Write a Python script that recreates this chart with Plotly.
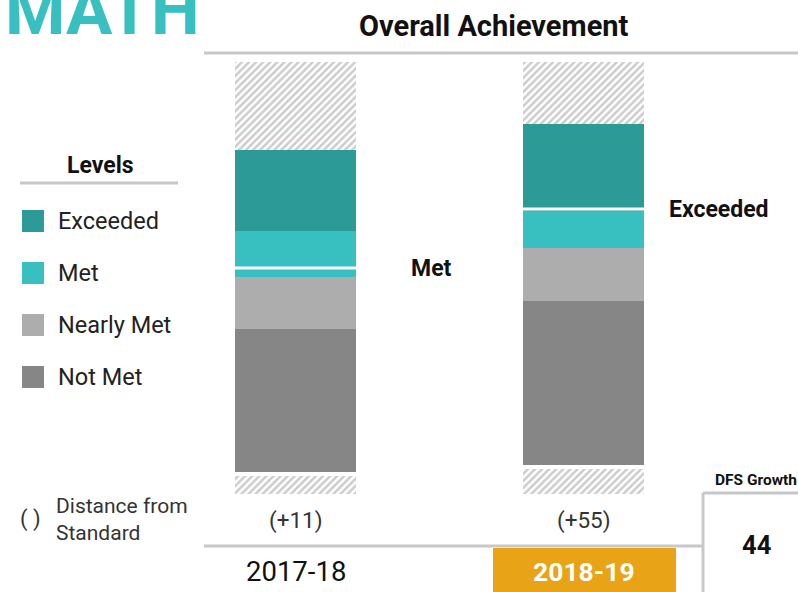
import plotly.graph_objects as go

# values are in chart units (1 unit ~ 1px of bar height)
years = ["2017-18", "2018-19"]
levels = ["Exceeded", "Met", "Nearly Met", "Not Met"]
level_colors = ["#2c9a96", "#38bfc0", "#adadad", "#868686"]

hatch_bottom = [18, 25]
gap = [4, 4]
not_met = [143, 164]
nearly_met = [52, 53]
met = [46, 37]
exceeded = [81, 87]
scale_top = 432

standard_line = [226, 285]
line_level = ["Met", "Exceeded"]
dfs = ["(+11)", "(+55)"]
dfs_growth = 44

W, H = 798, 592
FONT = "Roboto"


def px(x):
    return x / W


def py(y):
    return 1 - y / H


def note(x, y, text, size, color="#111", xanchor="center", **kw):
    return dict(xref="paper", yref="paper", x=px(x), y=py(y), text=text, showarrow=False,
                xanchor=xanchor, yanchor="middle", font=dict(family=FONT, size=size, color=color), **kw)


totals = [hatch_bottom[i] + gap[i] + not_met[i] + nearly_met[i] + met[i] + exceeded[i]
          for i in range(len(years))]
hatch_top = [scale_top - t for t in totals]

fig = go.Figure()
xs = [0, 1]
bw = 0.42
hatch = dict(shape="/", fgcolor="#999999", bgcolor="white", size=5, solidity=0.5)

fig.add_trace(go.Bar(x=xs, y=hatch_bottom, width=bw, marker=dict(color="white", pattern=hatch, line_width=0)))
fig.add_trace(go.Bar(x=xs, y=gap, width=bw, marker=dict(color="white", line_width=0)))
for vals, c in zip([not_met, nearly_met, met, exceeded], level_colors[::-1]):
    fig.add_trace(go.Bar(x=xs, y=vals, width=bw, marker=dict(color=c, line_width=0)))
fig.add_trace(go.Bar(x=xs, y=hatch_top, width=bw, marker=dict(color="white", pattern=hatch, line_width=0)))

shapes = []
annotations = []

# white marker line showing where the average falls, with its level label
for i, (v, lab) in enumerate(zip(standard_line, line_level)):
    shapes.append(dict(type="line", xref="x", yref="y", x0=i - bw / 2, x1=i + bw / 2, y0=v, y1=v,
                       line=dict(color="white", width=3)))
    annotations.append(dict(xref="x", yref="y", x=i + 0.472, y=v, text="<b>%s</b>" % lab,
                            showarrow=False, xanchor="center", yanchor="middle",
                            font=dict(family=FONT, size=23, color="#111")))

# distance from standard + year labels
for i, (y, d) in enumerate(zip(years, dfs)):
    annotations.append(dict(xref="x", yref="paper", x=i, y=py(520), text=d, showarrow=False,
                            xanchor="center", yanchor="middle",
                            font=dict(family=FONT, size=22.5, color="#333")))
    if i == len(years) - 1:
        shapes.append(dict(type="rect", xref="paper", yref="paper", x0=px(493), x1=px(676), y0=py(548), y1=py(600),
                           fillcolor="#e8a317", line_width=0, layer="below"))
        txt, col, sz = "<b>%s</b>" % y, "white", 26.5
    else:
        txt, col, sz = y, "#111", 27.5
    annotations.append(dict(xref="x", yref="paper", x=i, y=py(571), text=txt, showarrow=False,
                            xanchor="center", yanchor="middle",
                            font=dict(family=FONT, size=sz, color=col)))

# frame lines
grey = "#c8c8c8"
shapes += [
    dict(type="line", xref="paper", yref="paper", x0=px(204), x1=1, y0=py(53), y1=py(53), line=dict(color=grey, width=3)),
    dict(type="line", xref="paper", yref="paper", x0=px(204), x1=px(703), y0=py(546), y1=py(546), line=dict(color=grey, width=3)),
    dict(type="line", xref="paper", yref="paper", x0=px(20), x1=px(178), y0=py(183), y1=py(183), line=dict(color=grey, width=3)),
    dict(type="line", xref="paper", yref="paper", x0=px(703), x1=1, y0=py(493), y1=py(493), line=dict(color=grey, width=3)),
    dict(type="line", xref="paper", yref="paper", x0=px(703), x1=px(703), y0=py(493), y1=0, line=dict(color=grey, width=3)),
]

# legend
for k, (name, c) in enumerate(zip(levels, level_colors)):
    yc = 221 + 52 * k
    shapes.append(dict(type="rect", xref="paper", yref="paper", x0=px(22), x1=px(44), y0=py(yc - 11), y1=py(yc + 11),
                       fillcolor=c, line_width=0))
    annotations.append(note(56, yc, name, 23.5, "#222", xanchor="left"))

annotations += [
    note(3, 10, "<b>MATH</b>", 69, "#38bfc0", xanchor="left"),
    note(494, 26, "<b>Overall Achievement</b>", 29),
    note(100, 165, "<b>Levels</b>", 23),
    note(18, 519, "( )", 22, "#333", xanchor="left"),
    note(54, 519, "Distance from<br>Standard", 21, "#333", xanchor="left", align="left"),
    note(756, 480, "<b>DFS Growth</b>", 15.5),
    note(756, 545, "<b>%d</b>" % dfs_growth, 25.5),
]

fig.update_layout(
    width=W, height=H, margin=dict(l=0, r=0, t=0, b=0),
    barmode="stack", showlegend=False, bargap=0,
    plot_bgcolor="white", paper_bgcolor="white",
    xaxis=dict(range=[-295.5 / 288, (W - 295.5) / 288], visible=False, fixedrange=True),
    yaxis=dict(range=[-(H - 494), 494], visible=False, fixedrange=True),
    shapes=shapes, annotations=annotations,
)

# drop the default page margin so the figure sits flush in the window
fig.write_html("out.html", config={"displayModeBar": False},
               post_script="document.body.style.margin='0';document.body.style.overflow='hidden';")
